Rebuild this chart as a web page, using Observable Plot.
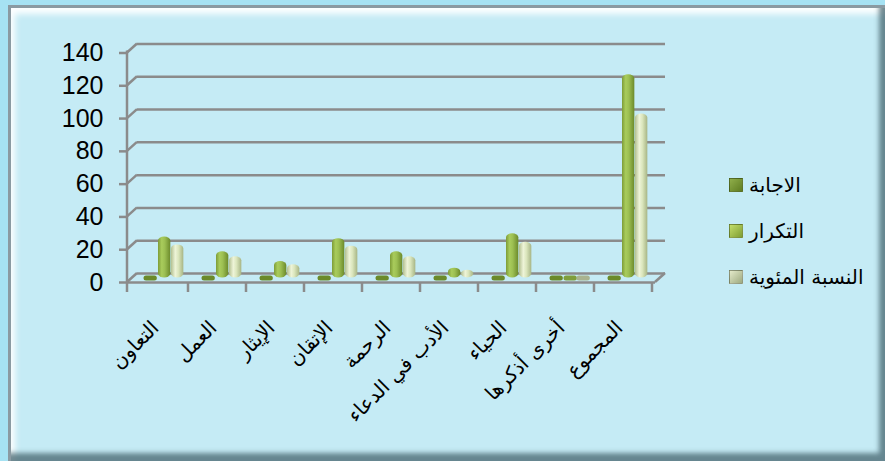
<!DOCTYPE html>
<html><head><meta charset="utf-8">
<script src="https://cdn.jsdelivr.net/npm/d3@7"></script>
<script src="https://cdn.jsdelivr.net/npm/@observablehq/plot@0.6"></script>
<style>
html,body{margin:0;padding:0;background:#a6e2f3;}
#wrap{position:relative;width:885px;height:461px;overflow:hidden;font-family:"Liberation Sans",Arial,sans-serif;}
#panel{position:absolute;left:8px;top:5px;width:877px;height:456px;background:#c5ebf5;
 border-left:3px solid #8a9aa2;border-top:3px solid #8a9aa2;box-sizing:border-box;
 box-shadow: inset -9px -11px 5px -3px rgba(70,100,110,.75), inset 7px 9px 6px -3px rgba(255,255,255,.95);}
#chart{position:absolute;left:0;top:0;}
#legend{position:absolute;left:729px;top:162px;direction:ltr;}
.row{display:flex;align-items:center;height:46px;margin:0;}
.sw{width:14px;height:14px;box-sizing:border-box;margin-right:6px;border:1px solid rgba(0,0,0,.25);}
.lab{font-family:"DejaVu Sans",sans-serif;font-size:20px;color:#000;}
</style></head>
<body>
<div id="wrap"><div id="panel"></div><div id="chart"></div><div id="legend"></div></div>
<script>
const categories = ["التعاون","العمل","الإيثار","الإتقان","الرحمة","الأدب في الدعاء","الحياء","أخرى أذكرها","المجموع"];
const seriesNames = ["الاجابة","التكرار","النسبة المئوية"];
const answer    = [0,0,0,0,0,0,0,0,0];
const frequency = [25,16,10,24,16,6,27,0,124];
const percent   = [20.2,12.9,8.1,19.4,12.9,4.8,21.8,0,100];
const yTicks = [0,20,40,60,80,100,120,140];

const seriesValues = [answer, frequency, percent];
const rows = categories.flatMap((c,i) => seriesValues.map((vals,s) => ({cat:c, series:seriesNames[s], s, value:vals[i]})));

const W = 885, H = 461, ML = 127, MR = 230, MT = 52.5, MB = 179;
const bw = (W - ML - MR) / categories.length;
const fills = ["url(#gAns)","url(#gTek)","url(#gPct)"];
const flatFills = ["#6b8a2a","#7f9e3c","#a9b38f"];
const insets = [[14,bw-27],[28,bw-41],[41,bw-54]];
const DY = -4.5;

const marks = [
  Plot.ruleY(yTicks, {dx:10, dy:-9, stroke:"#8b8b8b", strokeWidth:2.5}),
  Plot.ruleY([0], {stroke:"#8b8b8b", strokeWidth:2.5}),
  Plot.axisY({ticks:yTicks, tickSize:8, tickPadding:16, fontSize:25, stroke:"#8b8b8b", strokeWidth:2.5, fill:"#000", label:null, tickFormat:d=>String(d)}),
  Plot.axisX({tickSize:0, tickRotate:-45, tickPadding:42, dx:-4, fontSize:20, fontFamily:"DejaVu Sans", fill:"#000", label:null})
];
seriesValues.forEach((vals,s) => {
  const data = rows.filter(r => r.s === s);
  marks.push(Plot.barY(data.filter(r=>r.value>0), {x:"cat", y:"value", fill:fills[s], insetLeft:insets[s][0], insetRight:insets[s][1], rx:6.5, ry:4, dy:DY}));
  marks.push(Plot.tickY(data.filter(r=>r.value===0), {x:"cat", y:"value", stroke:flatFills[s], strokeWidth:5, strokeLinecap:"round", insetLeft:insets[s][0]+2, insetRight:insets[s][1]+2, dy:DY}));
});

const chart = Plot.plot({
  width: W, height: H,
  marginLeft: ML, marginRight: MR, marginTop: MT, marginBottom: MB,
  style: {background:"transparent", overflow:"visible", fontFamily:"Liberation Sans, Arial, sans-serif"},
  x: {domain: categories, paddingInner: 0, paddingOuter: 0, axis: null},
  y: {domain: [0,140], axis: null},
  marks
});

const svg = d3.select(chart);
const defs = svg.insert("defs", ":first-child");
function grad(id, stops){
  const g = defs.append("linearGradient").attr("id", id).attr("x1","0").attr("x2","1").attr("y1","0").attr("y2","0");
  stops.forEach(([o,c]) => g.append("stop").attr("offset", o).attr("stop-color", c));
}
grad("gAns", [[0,"#5d7a22"],[0.4,"#86a843"],[1,"#56721f"]]);
grad("gTek", [[0,"#7d9c37"],[0.3,"#a9cc5c"],[0.55,"#9cbf52"],[1,"#6c8a2b"]]);
grad("gPct", [[0,"#b3c091"],[0.35,"#eef4d8"],[0.6,"#dbe6bd"],[1,"#a7b585"]]);

const xs = chart.scale("x"), ys = chart.scale("y");
const x0 = ML, x1 = W - MR;
const g = svg.append("g").attr("stroke","#8b8b8b").attr("stroke-width",2.5).attr("fill","none");
yTicks.forEach(t => {
  const y = ys.apply(t);
  g.append("line").attr("x1", x0).attr("y1", y).attr("x2", x0+10).attr("y2", y-9);
});
const yb = ys.apply(0), yt = ys.apply(140);
g.append("line").attr("x1", x0).attr("x2", x0).attr("y1", yt - 2).attr("y2", yb + 10);
g.append("line").attr("x1", x1).attr("y1", yb).attr("x2", x1+10).attr("y2", yb-9);
categories.forEach(c => {
  const xe = xs.apply(c) + xs.bandwidth;
  g.append("line").attr("x1", xe).attr("x2", xe).attr("y1", yb).attr("y2", yb+10);
});

document.getElementById("chart").appendChild(chart);

const legendColors = ["linear-gradient(135deg,#8fae4a,#5f7d22)","linear-gradient(135deg,#c2dd6a,#7f9e34)","linear-gradient(135deg,#e3e9c9,#9eaa80)"];
const leg = d3.select("#legend");
seriesNames.forEach((n,i) => {
  const r = leg.append("div").attr("class","row");
  r.append("div").attr("class","sw").style("background", legendColors[i]);
  r.append("span").attr("class","lab").text(n);
});
</script>
</body></html>
